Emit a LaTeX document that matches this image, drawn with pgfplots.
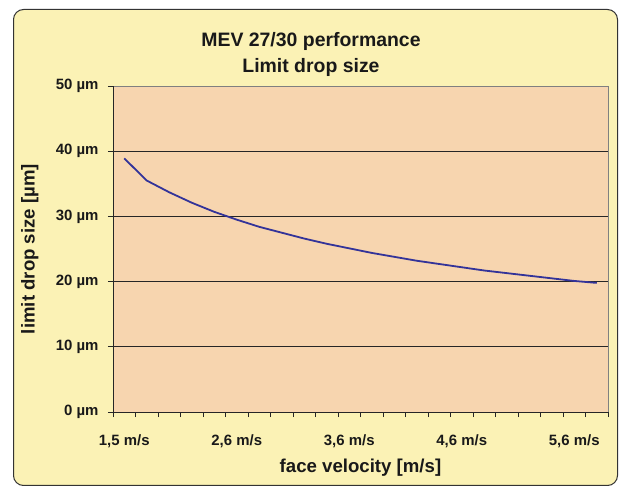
\documentclass[border=0pt]{standalone}
\usepackage{fontspec}
\setmainfont{Liberation Sans}
\usepackage{pgfplots}
\pgfplotsset{compat=1.18}

\definecolor{chartbg}{HTML}{FBF2B5}
\definecolor{plotbg}{HTML}{F7D5AF}
\definecolor{curve}{HTML}{333399}

\begin{document}
\begin{tikzpicture}
\useasboundingbox (0,0) rectangle (619bp,488bp);
\fill[white] (0,0) rectangle (619bp,488bp);
\draw[fill=chartbg, draw=black!80, line width=1bp, rounded corners=10bp]
  (13.5bp,2.5bp) rectangle (617.5bp,478.5bp);

\begin{axis}[
    at={(113bp,76bp)}, anchor=south west,
    scale only axis,
    width=495bp, height=326bp,
    xmin=0.5, xmax=22.5,
    ymin=0, ymax=50,
    axis lines*=left,
    axis line style={black!85, line width=1bp},
    axis background/.style={fill=plotbg, draw=gray, line width=1bp},
    tick align=outside,
    xtick={1,6,11,16,21},
    xticklabels={{1,5 m/s},{2,6 m/s},{3,6 m/s},{4,6 m/s},{5,6 m/s}},
    major x tick style={draw=none},
    minor xtick={0.5,1.5,...,22.5},
    minor tick length=5bp,
    minor x tick style={black!85, line width=0.8bp},
    ytick={0,10,20,30,40,50},
    yticklabels={0 µm,10 µm,20 µm,30 µm,40 µm,50 µm},
    major tick length=5bp,
    major y tick style={black!85, line width=0.8bp},
    extra y ticks={10,20,30,40},
    extra y tick labels={},
    extra y tick style={grid=major, major tick length=0pt},
    grid style={black!85, line width=1bp},
    tick label style={font=\bfseries\fontsize{15}{16}\selectfont, text=black!90},
    yticklabel style={xshift=-6bp},
    xticklabel style={yshift=-14bp},
    title={MEV 27/30 performance\\Limit drop size},
    title style={align=center, at={(axis description cs:0.4,1.077)}, anchor=center,
      font=\bfseries\fontsize{19.5}{26}\selectfont, text=black!90},
    xlabel={face velocity [m/s]},
    xlabel style={at={(axis description cs:0.5,-0.172)}, anchor=center,
      font=\bfseries\fontsize{18.7}{20}\selectfont, text=black!90},
    ylabel={limit drop size [µm]},
    ylabel style={at={(axis description cs:-0.168,0.5)}, anchor=center, rotate=0,
      font=\bfseries\fontsize{18.7}{20}\selectfont, text=black!90},
    clip=false,
]
\addplot[curve, line width=1.8bp, mark=none] coordinates {
    (1,38.9) (2,35.5) (3,33.7) (4,32.1) (5,30.7) (6,29.5)
    (7,28.4) (8,27.5) (9,26.6) (10,25.8) (11,25.1) (12,24.4)
    (13,23.8) (14,23.2) (15,22.7) (16,22.2) (17,21.7) (18,21.3)
    (19,20.9) (20,20.5) (21,20.1) (22,19.8)
};
\end{axis}
\end{tikzpicture}
\end{document}
